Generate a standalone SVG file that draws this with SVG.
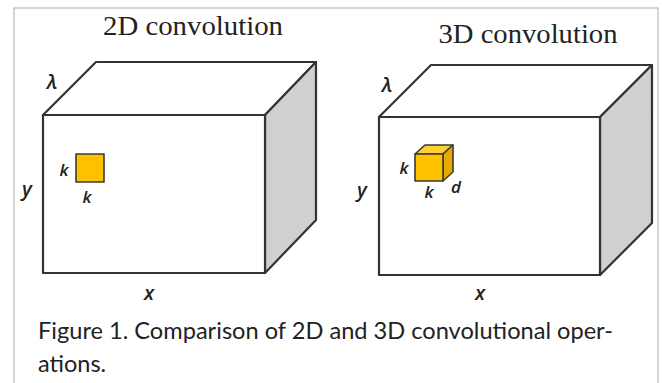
<svg xmlns="http://www.w3.org/2000/svg" width="662" height="383" viewBox="0 0 662 383">
<style>
.frame{fill:#fff;stroke:#c8c8c8;stroke-width:1.5}
.face{fill:#fff;stroke:#333;stroke-width:2.2;stroke-linejoin:round}
.side{fill:#d0d0d0;stroke:#333;stroke-width:2.2;stroke-linejoin:round}
.kern{fill:#ffc000;stroke:#3a3a3a;stroke-width:1.6;stroke-linejoin:round}
.ktop{fill:#ffcf33;stroke:#3a3a3a;stroke-width:1.6;stroke-linejoin:round}
.kside{fill:#e5a900;stroke:#3a3a3a;stroke-width:1.6;stroke-linejoin:round}
.title{font-family:"Liberation Serif","Times New Roman",serif;font-size:27px;fill:#222}
.var{font-family:"Open Sans","DejaVu Sans",sans-serif;font-style:italic;font-weight:600;fill:#222}
.cap{font-family:Lato,"Open Sans",sans-serif;font-size:23.5px;fill:#222}
</style>
<rect class="frame" x="14" y="8" width="644" height="390"/>

<g id="box2d">
<polygon class="face" points="43,115 96,62 316,62 265,115"/>
<polygon class="side" points="265,115 316,62 316,220 265,273"/>
<rect class="face" x="43" y="115" width="222" height="158"/>
</g>
<g id="kernel2d">
<rect class="kern" x="76" y="154" width="28" height="28"/>
</g>
<g id="labels2d">
<text class="title" x="193" y="35" text-anchor="middle" textLength="180" lengthAdjust="spacingAndGlyphs">2D convolution</text>
<text class="var" x="52" y="89" font-size="20" text-anchor="middle">λ</text>
<text class="var" x="27" y="196" font-size="20" text-anchor="middle">y</text>
<text class="var" x="149" y="300" font-size="20" text-anchor="middle">x</text>
<text class="var" x="64" y="176" font-size="17" text-anchor="middle">k</text>
<text class="var" x="87" y="203" font-size="17" text-anchor="middle">k</text>
</g>

<g id="box3d">
<polygon class="face" points="379,117 431,65 652,65 600,117"/>
<polygon class="side" points="600,117 652,65 652,223 600,275"/>
<rect class="face" x="379" y="117" width="221" height="158"/>
</g>
<g id="kernel3d">
<polygon class="ktop" points="415,154 425,145 453,145 443,154"/>
<polygon class="kside" points="443,154 453,145 453,172 443,181"/>
<rect class="kern" x="415" y="154" width="28" height="27"/>
</g>
<g id="labels3d">
<text class="title" x="528" y="43" text-anchor="middle" textLength="179" lengthAdjust="spacingAndGlyphs">3D convolution</text>
<text class="var" x="387" y="92" font-size="20" text-anchor="middle">λ</text>
<text class="var" x="362" y="197" font-size="20" text-anchor="middle">y</text>
<text class="var" x="480" y="300" font-size="20" text-anchor="middle">x</text>
<text class="var" x="404" y="174" font-size="17" text-anchor="middle">k</text>
<text class="var" x="429" y="198" font-size="17" text-anchor="middle">k</text>
<text class="var" x="456" y="193" font-size="17" text-anchor="middle">d</text>
</g>

<g id="caption">
<text class="cap" x="38" y="339" textLength="575" lengthAdjust="spacingAndGlyphs">Figure 1. Comparison of 2D and 3D convolutional oper-</text>
<text class="cap" x="38" y="372">ations.</text>
</g>
</svg>
